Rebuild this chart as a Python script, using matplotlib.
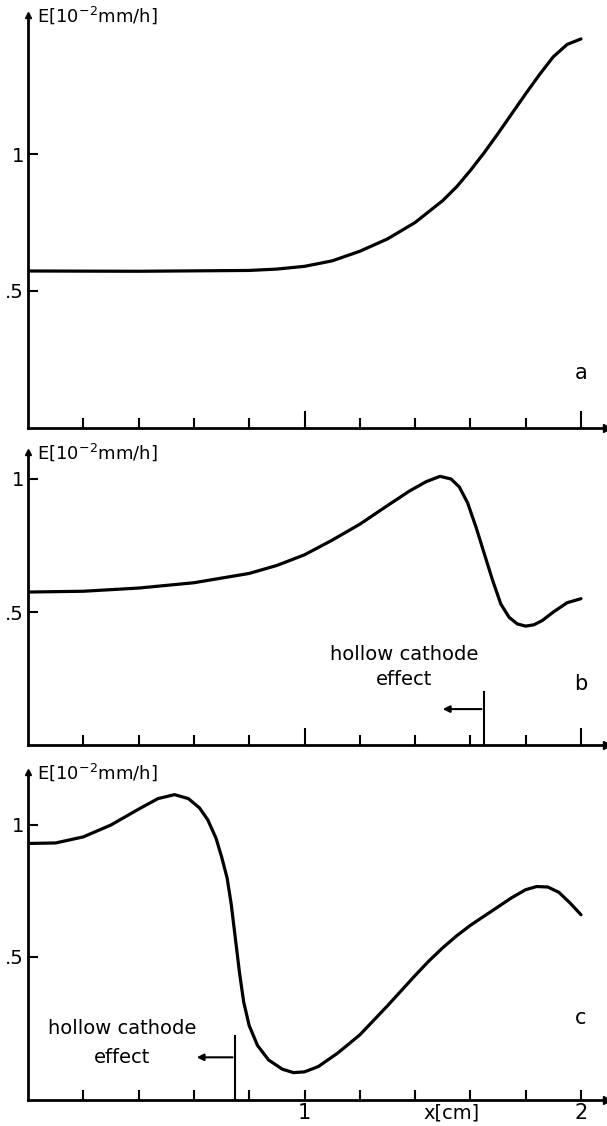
import numpy as np
import matplotlib
matplotlib.use("Agg")
import matplotlib.pyplot as plt
plt.rcParams.update({'font.size': 13, 'font.family': ['DejaVu Sans']})

# panel a: E [1e-2 mm/h] vs x [cm]
x_a = [0.0, 0.4, 0.8, 0.9, 1.0, 1.1, 1.2, 1.3, 1.4, 1.5, 1.55, 1.6, 1.65, 1.7, 1.8, 1.85, 1.9,
       1.95, 2.0]
e_a = [0.573, 0.572, 0.575, 0.58, 0.59, 0.61, 0.645, 0.69, 0.75, 0.83, 0.88, 0.94, 1.005, 1.075,
       1.22, 1.29, 1.355, 1.40, 1.42]

# panel b
x_b = [0.0, 0.2, 0.4, 0.6, 0.8, 0.9, 1.0, 1.1, 1.2, 1.3, 1.38, 1.44, 1.49, 1.53, 1.56, 1.59,
       1.62, 1.65, 1.68, 1.71, 1.74, 1.77, 1.80, 1.83, 1.86, 1.9, 1.95, 2.0]
e_b = [0.575, 0.578, 0.59, 0.61, 0.645, 0.675, 0.715, 0.77, 0.83, 0.90, 0.955, 0.99, 1.01, 1.0,
       0.97, 0.91, 0.82, 0.72, 0.62, 0.53, 0.48, 0.455, 0.447, 0.452, 0.468, 0.50, 0.535, 0.55]

# panel c
x_c = [0.0, 0.1, 0.2, 0.3, 0.4, 0.47, 0.53, 0.58, 0.62, 0.65, 0.68, 0.70, 0.72, 0.735, 0.75,
       0.765, 0.78, 0.80, 0.83, 0.87, 0.92, 0.96, 1.0, 1.05, 1.12, 1.2, 1.3, 1.4, 1.45, 1.5,
       1.55, 1.6, 1.65, 1.7, 1.75, 1.8, 1.84, 1.88, 1.92, 1.96, 2.0]
e_c = [0.93, 0.932, 0.955, 1.0, 1.06, 1.10, 1.115, 1.10, 1.065, 1.02, 0.95, 0.88, 0.80, 0.70,
       0.57, 0.44, 0.33, 0.24, 0.165, 0.11, 0.075, 0.062, 0.065, 0.085, 0.136, 0.205, 0.315,
       0.43, 0.485, 0.535, 0.58, 0.62, 0.655, 0.69, 0.725, 0.755, 0.767, 0.765, 0.745, 0.705,
       0.66]

x_ticks = [0.2, 0.4, 0.6, 0.8, 1.0, 1.2, 1.4, 1.6, 1.8, 2.0]
y_ticks = [0.5, 1.0]
y_tick_labels = ['.5', '1']

W, H = 607, 1126
fig = plt.figure(figsize=(W / 100, H / 100), dpi=100)

x_max = (607 - 28) / 276.5


def make_axes(top_px, bottom_px, y_bottom, y_top):
    ax = fig.add_axes([28 / W, 1 - bottom_px / H, 579 / W, (bottom_px - top_px) / H])
    ax.set_xlim(0, x_max)
    ax.set_ylim(y_bottom, y_top)
    for s in ['top', 'right']:
        ax.spines[s].set_visible(False)
    for s in ['left', 'bottom']:
        ax.spines[s].set_linewidth(2)
    # arrow heads on the axes
    ax.plot(1, y_bottom, marker='>', color='black', markersize=6, clip_on=False,
            transform=ax.get_yaxis_transform())
    ax.plot(0, 1, marker='^', color='black', markersize=5, clip_on=False,
            transform=ax.get_xaxis_transform())
    ax.set_xticks(x_ticks)
    ax.tick_params(axis='x', direction='in', length=7, width=1.5)
    ax.set_xticklabels([])
    for t in ax.xaxis.get_major_ticks():
        if abs(t.get_loc() - 1.0) < 1e-6 or abs(t.get_loc() - 2.0) < 1e-6:
            t.tick1line.set_markersize(12)
    ax.set_yticks(y_ticks)
    ax.set_yticklabels(y_tick_labels)
    ax.tick_params(axis='y', direction='in', length=7, width=1.5, pad=3, labelsize=14)
    ax.text(0.015, 1.0, r'E[10$^{-2}$mm/h]', transform=ax.transAxes, fontsize=13,
            va='center', ha='left')
    return ax


def draw_curve(ax, x, y):
    ax.plot(x, y, color='black', lw=2.3, solid_joinstyle='round', solid_capstyle='round')


ax_a = make_axes(15, 428, 0, (428 - 15) / 274)
draw_curve(ax_a, x_a, e_a)
ax_a.text(2.0, 0.2, 'a', fontsize=15, ha='center', va='center')

ax_b = make_axes(452, 745, 0, (745 - 452) / 266)
draw_curve(ax_b, x_b, e_b)
ax_b.text(2.0, 0.23, 'b', fontsize=15, ha='center', va='center')
ax_b.text(1.36, 0.34, 'hollow cathode', fontsize=14, ha='center', va='center')
ax_b.text(1.36, 0.245, 'effect', fontsize=14, ha='center', va='center')
ax_b.plot([1.65, 1.65], [0, 0.2], color='black', lw=1.5)
ax_b.annotate('', xy=(1.49, 0.135), xytext=(1.65, 0.135),
              arrowprops=dict(arrowstyle='-|>', color='black', lw=1.5, mutation_scale=10))

ax_c = make_axes(772, 1100, (1089 - 1100) / 264, (1089 - 772) / 264)
draw_curve(ax_c, x_c, e_c)
ax_c.text(2.0, 0.27, 'c', fontsize=15, ha='center', va='center')
ax_c.text(0.34, 0.23, 'hollow cathode', fontsize=14, ha='center', va='center')
ax_c.text(0.34, 0.12, 'effect', fontsize=14, ha='center', va='center')
ax_c.plot([0.75, 0.75], [ax_c.get_ylim()[0], 0.2], color='black', lw=1.5)
ax_c.annotate('', xy=(0.6, 0.12), xytext=(0.75, 0.12),
              arrowprops=dict(arrowstyle='-|>', color='black', lw=1.5, mutation_scale=10))
ax_c.set_xticks(x_ticks)
ax_c.set_xticklabels(['', '', '', '', '1', '', '', '', '', '2'], fontsize=15)
ax_c.tick_params(axis='x', pad=2)
ax_c.text(1.53, -0.09, 'x[cm]', fontsize=14, ha='center', va='center')

plt.savefig('out.png', dpi=100)
plt.close()
